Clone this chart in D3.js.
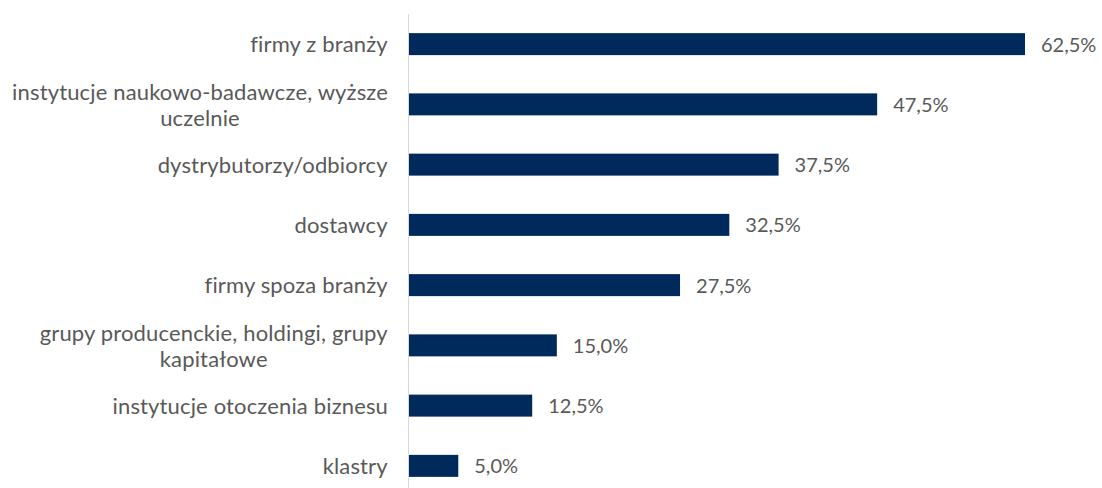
<!DOCTYPE html>
<html>
<head>
<meta charset="utf-8">
<script src="https://cdn.jsdelivr.net/npm/d3@7"></script>
<style>
  html, body { margin: 0; padding: 0; background: #ffffff; }
  svg { display: block; }
  text { font-family: Lato, "Open Sans", sans-serif; fill: #595959; }
</style>
</head>
<body>
<svg id="chart" width="1102" height="488"></svg>
<script>
// Categories (each entry is a list of label lines) and their shares in percent
const categories = [
  ["firmy z branży"],
  ["instytucje naukowo-badawcze, wyższe", "uczelnie"],
  ["dystrybutorzy/odbiorcy"],
  ["dostawcy"],
  ["firmy spoza branży"],
  ["grupy producenckie, holdingi, grupy", "kapitałowe"],
  ["instytucje otoczenia biznesu"],
  ["klastry"]
];
const values = [62.5, 47.5, 37.5, 32.5, 27.5, 15.0, 12.5, 5.0];
const valueLabels = ["62,5%", "47,5%", "37,5%", "32,5%", "27,5%", "15,0%", "12,5%", "5,0%"];

const svg = d3.select("#chart");
const axisX = 408;
const labelRight = 388;

const y = d3.scaleBand()
  .domain(d3.range(categories.length))
  .range([14, 496])
  .paddingInner(0.635)
  .paddingOuter(0.3175);

const x = d3.scaleLinear()
  .domain([0, 62.5])
  .range([axisX + 1, 1025]);

// Bars
svg.append("g").selectAll("rect")
  .data(values)
  .join("rect")
  .attr("x", x(0))
  .attr("y", (d, i) => y(i))
  .attr("width", d => x(d) - x(0))
  .attr("height", y.bandwidth())
  .attr("fill", "#002a5c");

// Category axis line
svg.append("line")
  .attr("x1", axisX + 0.5).attr("x2", axisX + 0.5)
  .attr("y1", 14).attr("y2", 488)
  .attr("stroke", "#d9d9d9")
  .attr("stroke-width", 1);

// Value labels
svg.append("g").selectAll("text")
  .data(values)
  .join("text")
  .attr("x", d => x(d) + 16)
  .attr("y", (d, i) => y(i) + y.bandwidth() / 2)
  .attr("dy", "0.38em")
  .attr("font-size", 20)
  .text((d, i) => valueLabels[i]);

// Category labels: block right-aligned, lines centered within the block
const lineH = 26;
const labelG = svg.append("g");
categories.forEach((lines, i) => {
  const cy = y(i) + y.bandwidth() / 2;
  const t = labelG.append("text")
    .attr("font-size", 22)
    .attr("letter-spacing", 0.15)
    .attr("text-anchor", "middle");
  lines.forEach((ln, k) => {
    t.append("tspan")
      .attr("x", 0)
      .attr("y", cy + (k - (lines.length - 1) / 2) * lineH)
      .attr("dy", "0.38em")
      .text(ln);
  });
  const w = t.node().getBBox().width;
  t.attr("transform", `translate(${labelRight - w / 2},0)`);
});
</script>
</body>
</html>
